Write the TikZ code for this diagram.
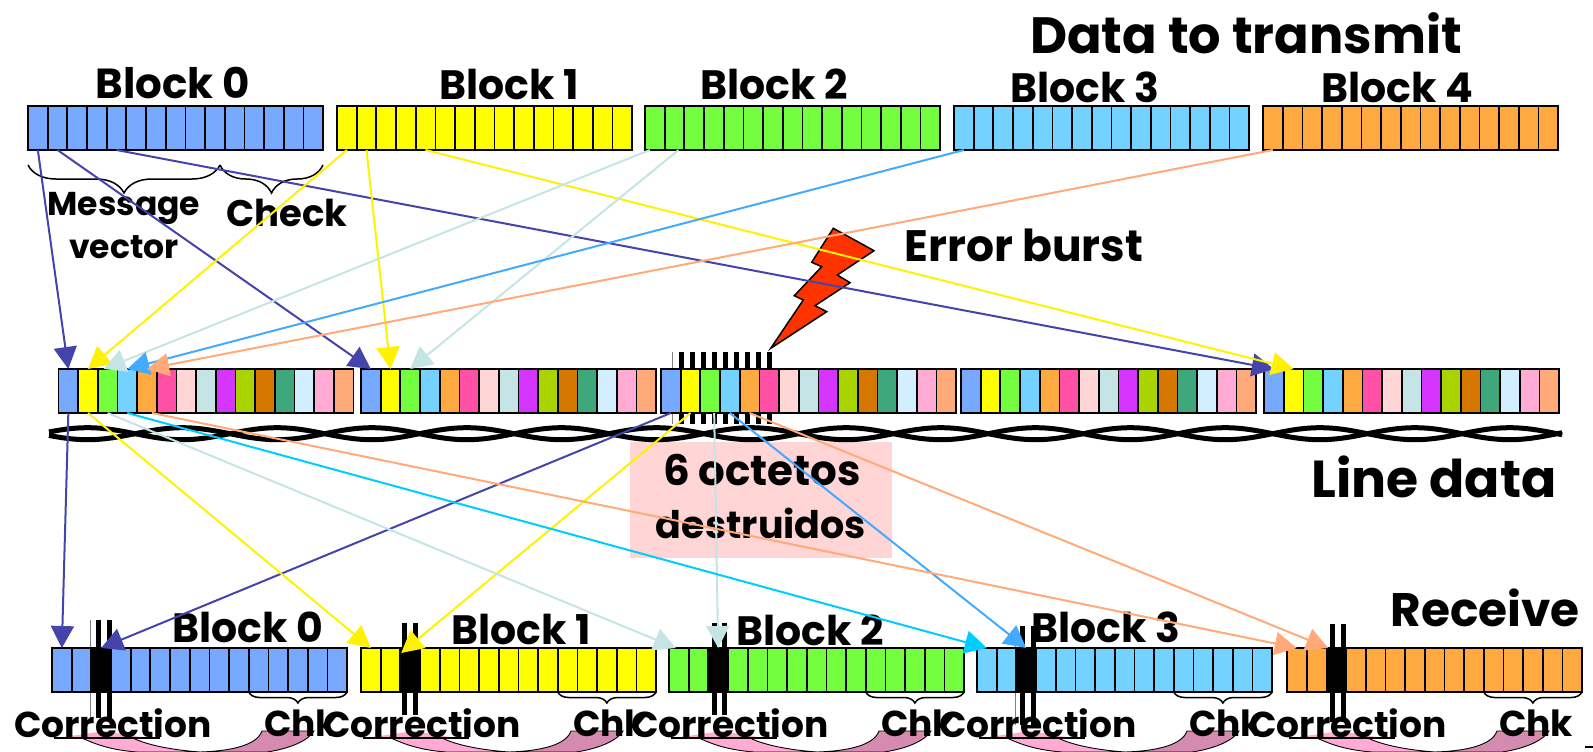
\documentclass[tikz,border=0pt]{standalone}
\usepackage{fontspec}
\setmainfont{Poppins}
\usetikzlibrary{arrows.meta, decorations.pathreplacing}
\definecolor{blockblue}{HTML}{77AAFF}
\definecolor{blockyellow}{HTML}{FFFF00}
\definecolor{blockgreen}{HTML}{73FF3F}
\definecolor{blocksky}{HTML}{73D2FF}
\definecolor{blockorange}{HTML}{FFAA40}
\definecolor{cellpink}{HTML}{FF50A6}
\definecolor{cellrose}{HTML}{FFD5D5}
\definecolor{cellmist}{HTML}{C4E4E6}
\definecolor{cellviolet}{HTML}{D634FF}
\definecolor{cellolive}{HTML}{AAD400}
\definecolor{cellrust}{HTML}{D67800}
\definecolor{cellteal}{HTML}{3EA77B}
\definecolor{cellice}{HTML}{D2EEFF}
\definecolor{cellorchid}{HTML}{FFABD4}
\definecolor{cellpeach}{HTML}{FFAA78}
\definecolor{flowviolet}{HTML}{4444AA}
\definecolor{flowsky}{HTML}{44AAFF}
\definecolor{flowcyan}{HTML}{00CCFF}
\definecolor{sweepdark}{HTML}{D58BAF}
\definecolor{boltred}{HTML}{FF3300}
\tikzset{
    >={Triangle[length=22pt,width=23pt]},
    cellbox/.style={draw=black, line width=1.7pt, minimum width=19.67pt, minimum height=44pt, inner sep=0pt, outer sep=0pt},
    flow/.style={->, line width=2pt, color=#1},
    caption/.style={font=\fontsize{#1}{#1}\selectfont\bfseries, inner sep=0pt},
    topbrace/.style={decorate, decoration={brace, mirror, amplitude=28pt}, line width=1.5pt},
    chkbrace/.style={decorate, decoration={brace, mirror, amplitude=11pt}, line width=1.5pt},
    wire/.style={line width=5pt},
    sweep/.style={draw=black, line width=0.9pt}
}
\newcommand{\DrawBlock}[4]{
    \foreach \i in {1,...,15} {
        \node[cellbox, fill=#4] (#1-\i) at ({#2+(\i-1)*19.67+9.83},#3) {};
    }
}
\newcommand{\DrawLineBlock}[3]{
    \foreach \c [count=\i] in {blockblue,blockyellow,blockgreen,blocksky,blockorange,cellpink,cellrose,cellmist,cellviolet,cellolive,cellrust,cellteal,cellice,cellorchid,cellpeach} {
        \node[cellbox, fill=\c] (#1-\i) at ({#2+(\i-1)*19.67+9.83},#3) {};
    }
}
\newcommand{\DrawSweep}[1]{
    \begin{scope}[xshift=#1pt]
        \fill[cellorchid] (5,738) -- (53,731) -- (95,738) -- cycle;
        \draw[sweep, fill=cellorchid] (30,738) .. controls (45,745) and (60,750) .. (85,752) -- (148,752) .. controls (120,750) and (95,745) .. (81,738);
        \draw[sweep, fill=sweepdark] (210,731) -- (262,731) .. controls (255,742) and (235,749) .. (215,752) -- (148,752) .. controls (180,751) and (205,745) .. cycle;
        \draw[line width=1.3pt] (2,738) -- (108,738);
    \end{scope}
}
\begin{document}
\begin{tikzpicture}[x=1pt, y=-1pt]
    \useasboundingbox (0,0) rectangle (1593,752);
    \fill[cellrose] (630,442) rectangle (892,558);
    \foreach \s in {52,361,669,977,1287} {\DrawSweep{\s}}
    \draw[wire] plot[domain=49:1562, samples=500] (\x,{433.7+6*sin((\x-135)*1.8987)});
    \draw[wire] plot[domain=49:1562, samples=500] (\x,{433.7-6*sin((\x-135)*1.8987)});
    \foreach \x in {679,690,...,767} {\fill (\x,352) rectangle ++(5,72);}
    \draw[gray, line width=1pt] (672,352) -- (672,424);
    \foreach \a/\b/\t/\e in {96/107/620/718, 402/413/623/715, 712/722/623/715, 1020/1031/626/725, 1330/1341/624/722} {
        \fill (\a,\t) rectangle (\a+5,\e);
        \fill (\b,\t) rectangle (\b+5,\e);
    }
    \draw[gray, line width=1pt] (90.5,620) -- (90.5,718);
    \draw[gray, line width=1pt] (1015,626) -- (1015,725);
    \DrawBlock{t0}{28}{128}{blockblue}
    \DrawBlock{t1}{337}{128}{blockyellow}
    \DrawBlock{t2}{645}{128}{blockgreen}
    \DrawBlock{t3}{954}{128}{blocksky}
    \DrawBlock{t4}{1263}{128}{blockorange}
    \DrawLineBlock{m0}{58.5}{391}
    \DrawLineBlock{m1}{361}{391}
    \DrawLineBlock{m2}{661}{391}
    \DrawLineBlock{m3}{961}{391}
    \DrawLineBlock{m4}{1264}{391}
    \DrawBlock{b0}{52}{670}{blockblue}
    \DrawBlock{b1}{361}{670}{blockyellow}
    \DrawBlock{b2}{669}{670}{blockgreen}
    \DrawBlock{b3}{977}{670}{blocksky}
    \DrawBlock{b4}{1287}{670}{blockorange}
    \foreach \n in {b0,b1,b2,b3,b4} {
        \node[cellbox, fill=black] (\n-hit) at (\n-3) {};
        \draw[chkbrace] (\n-11.south west) -- (\n-15.south east);
    }
    \draw[topbrace] (28,165) -- (220,165);
    \draw[topbrace] (220,165) -- (323,165);
    \draw[draw=black, line width=1.5pt, fill=boltred] (833.3,228.3) -- (874,250.7) -- (837.3,275) -- (850,282.7) -- (815,305.7) -- (826.7,311.7) -- (770.7,348.3) -- (803.3,300) -- (794.3,295.7) -- (821.7,266.7) -- (811.7,262.3) -- cycle;
    \node[caption=51] (title) at (1246,33) {Data to transmit};
    \node[caption=42] (top0) at (173,83) {Block 0};
    \node[caption=41] (top1) at (509,84) {Block 1};
    \node[caption=41] (top2) at (774,84) {Block 2};
    \node[caption=41] (top3) at (1085,87) {Block 3};
    \node[caption=41] (top4) at (1397,87) {Block 4};
    \node[caption=33] (message) at (124,208) {Message};
    \node[caption=33] (vector) at (124,247) {vector};
    \node[caption=37] (check) at (287,213) {Check};
    \node[caption=44] (burst) at (1024,245) {Error burst};
    \node[caption=52] (linedata) at (1434,477) {Line data};
    \node[caption=42] (octetos) at (762,470) {6 octetos};
    \node[caption=38] (destruidos) at (761,523) {destruidos};
    \node[caption=47] (receive) at (1485,608) {Receive};
    \node[caption=41] (bot0) at (248,627) {Block 0};
    \node[caption=41] (bot1) at (521,629) {Block 1};
    \node[caption=41] (bot2) at (810,630) {Block 2};
    \node[caption=41] (bot3) at (1106,627) {Block 3};
    \foreach \n/\s in {0/52,1/361,2/669,3/977,4/1287} {
        \node[caption=36] (corr\n) at (\s+61,723) {Correction};
        \node[caption=36] (chk\n) at (\s+249,723) {Chk};
    }
    \draw[line width=1.5pt] (1585,747) -- (1593,747);
    \draw[flow=flowviolet] (t0-1.south) -- (m0-1.north);
    \draw[flow=flowviolet] (t0-2.south) -- (m1-1.north);
    \draw[flow=flowviolet] (t0-5.south) -- (m4-1.north);
    \draw[flow=yellow] (t1-1.south) -- (m0-2.north);
    \draw[flow=yellow] (t1-2.south) -- (m1-2.north);
    \draw[flow=yellow] (t1-5.south) -- (m4-2.north);
    \draw[flow=cellmist] ([xshift=-5pt]t2-1.south) -- ([xshift=-4pt]m0-3.north);
    \draw[flow=cellmist] ([xshift=4pt]t2-2.south) -- (m1-3.north);
    \draw[flow=flowsky] (t3-1.south) -- (m0-4.north);
    \draw[flow=cellpeach] (t4-1.south) -- (m0-5.north);
    \draw[flow=flowviolet] (m0-1.south) -- (b0-1.north);
    \draw[flow=flowviolet] (m2-1.south) -- (b0-3.north);
    \draw[flow=yellow] (m0-2.south) -- (b1-1.north);
    \draw[flow=yellow] (m2-2.south) -- ([xshift=-9pt,yshift=-5pt]b1-3.north);
    \draw[flow=cellmist] (m0-3.south) -- ([xshift=-3pt]b2-1.north);
    \draw[flow=cellmist] ([xshift=4pt]m2-3.south) -- (b2-3.north);
    \draw[flow=flowcyan] (m0-4.south) -- (b3-1.north);
    \draw[flow=flowsky] (m2-4.south) -- (b3-3.north);
    \draw[flow=cellpeach] ([xshift=5pt]m0-5.south) -- (b4-1.north);
    \draw[flow=cellpeach] (m2-5.south) -- ([xshift=-8pt]b4-3.north);
\end{tikzpicture}
\end{document}
